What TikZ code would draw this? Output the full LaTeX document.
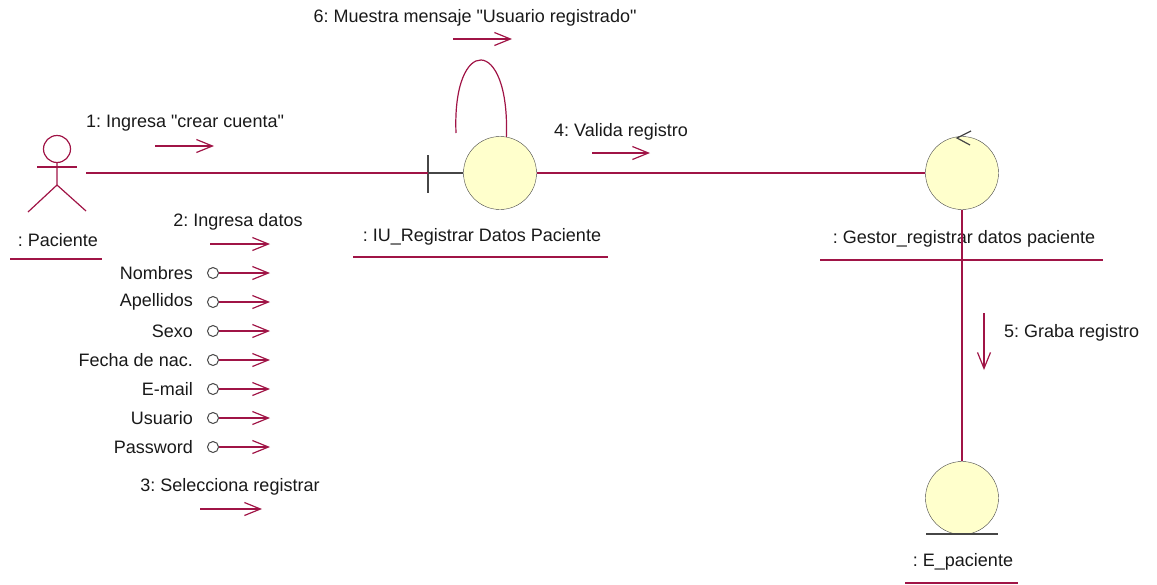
\documentclass[tikz,border=0pt]{standalone}
\usepackage{fontspec}
\setmainfont{Liberation Sans}
\usepackage{tikz}
\usetikzlibrary{positioning, arrows.meta}
\definecolor{linkRed}{RGB}{160,20,70}
\definecolor{objFill}{RGB}{255,255,204}
\definecolor{symGray}{RGB}{70,70,70}
\tikzstyle{object} = [
    circle,
    draw = symGray,
    fill = objFill,
    minimum size = 73pt,
    inner sep = 0pt
]
\tikzstyle{attr} = [
    circle,
    draw = symGray,
    line width = 1pt,
    fill = white,
    minimum size = 11pt,
    inner sep = 0pt
]
\tikzstyle{link} = [
    draw = linkRed,
    line width = 1.2pt
]
\tikzstyle{msg} = [
    draw = linkRed,
    line width = 1.2pt,
    -{Straight Barb[length = 16pt, width = 13pt]}
]
\tikzstyle{txt} = [
    font = \fontsize{18}{21}\selectfont,
    text = black!90,
    inner sep = 0pt
]
\tikzstyle{symbol} = [
    draw = symGray,
    line width = 1.2pt
]

\begin{document}
\frenchspacing
\begin{tikzpicture}[x = 1pt, y = -1pt]

                \useasboundingbox (0,0) rectangle (1157,584);

                % Paciente
                \node [minimum width = 58pt, minimum height = 78pt, inner sep = 0pt] (paciente) at (57,173) {};
                \draw [link] (57,149) circle (13.5pt);
                \draw [link] (37,167) -- (77,167);
                \draw [link] (57,163) -- (57,185) -- (28,212);
                \draw [link] (57,185) -- (86,211);
                \node [txt] (pacienteName) at (58,240) {: Paciente};
                \draw [link] (10,259) -- (102,259);

                % IU_Registrar Datos Paciente
                \node [object] (iu) at (500,173) {};
                \coordinate (iuBar) at (428,173);
                \draw [symbol] (iu.west) -- (iuBar);
                \draw [symbol] (428,155) -- (428,193);
                \node [txt] (iuName) at (482,237) {: IU\_Registrar Datos Paciente};
                \draw [link] (353,257) -- (608,257);
                \coordinate (loopEnd) at (456,133);
                \draw [link] (iu.80) .. controls (510,35) and (452,35) .. (loopEnd);

                % Gestor_registrar datos paciente
                \node [object] (gestor) at (962,173) {};
                \draw [symbol] (971,131) -- (957,138) -- (970,145);
                \node [txt] (gestorName) at (964,239) {: Gestor\_registrar datos paciente};
                \draw [link] (820,260) -- (1103,260);

                % E_paciente
                \node [object] (entidad) at (962,498) {};
                \draw [symbol] (926,534) -- (998,534);
                \node [txt] (entidadName) at (963,562) {: E\_paciente};
                \draw [link] (905,583) -- (1018,583);

                % links
                \draw [link] (paciente.east) -- (iuBar);
                \draw [link] (iu.east) -- (gestor.west);
                \draw [link] (gestor.south) -- (entidad.north);

                % 1: Ingresa "crear cuenta"
                \node [txt] (msg1) at (185,123) {1: Ingresa \textquotedbl crear cuenta\textquotedbl};
                \coordinate (m1) at (155,146);
                \draw [msg] (m1) -- ++(59,0);

                % 2: Ingresa datos
                \node [txt] (msg2) at (238,222) {2: Ingresa datos};
                \coordinate (m2) at (210,244);
                \draw [msg] (m2) -- ++(60,0);

                % datos
                \node [attr] (attrNombres) at (213,273) {};
                \node [attr, below = 17pt of attrNombres] (attrApellidos) {};
                \node [attr, below = 17pt of attrApellidos] (attrSexo) {};
                \node [attr, below = 17pt of attrSexo] (attrFecha) {};
                \node [attr, below = 17pt of attrFecha] (attrEmail) {};
                \node [attr, below = 17pt of attrEmail] (attrUsuario) {};
                \node [attr, below = 17pt of attrUsuario] (attrPassword) {};

                \node [txt, left = 14pt of attrNombres] (lblNombres) {Nombres};
                \node [txt, left = 14pt of attrApellidos] (lblApellidos) {Apellidos};
                \node [txt, left = 14pt of attrSexo] (lblSexo) {Sexo};
                \node [txt, left = 14pt of attrFecha] (lblFecha) {Fecha de nac.};
                \node [txt, left = 14pt of attrEmail] (lblEmail) {E-mail};
                \node [txt, left = 14pt of attrUsuario] (lblUsuario) {Usuario};
                \node [txt, left = 14pt of attrPassword] (lblPassword) {Password};

                \draw [msg] (attrNombres) -- ++(57,0);
                \draw [msg] (attrApellidos) -- ++(57,0);
                \draw [msg] (attrSexo) -- ++(57,0);
                \draw [msg] (attrFecha) -- ++(57,0);
                \draw [msg] (attrEmail) -- ++(57,0);
                \draw [msg] (attrUsuario) -- ++(57,0);
                \draw [msg] (attrPassword) -- ++(57,0);

                % 3: Selecciona registrar
                \node [txt] (msg3) at (230,487) {3: Selecciona registrar};
                \coordinate (m3) at (200,509);
                \draw [msg] (m3) -- ++(62,0);

                % 4: Valida registro
                \node [txt] (msg4) at (621,132) {4: Valida registro};
                \coordinate (m4) at (592,153);
                \draw [msg] (m4) -- ++(58,0);

                % 5: Graba registro
                \node [txt, anchor = west] (msg5) at (1004,333) {5: Graba registro};
                \coordinate (m5) at (984,313);
                \draw [msg] (m5) -- ++(0,57);

                % 6: Muestra mensaje "Usuario registrado"
                \node [txt] (msg6) at (475,18) {6: Muestra mensaje \textquotedbl Usuario registrado\textquotedbl};
                \coordinate (m6) at (453,39);
                \draw [msg] (m6) -- ++(59,0);

\end{tikzpicture}
\end{document}
